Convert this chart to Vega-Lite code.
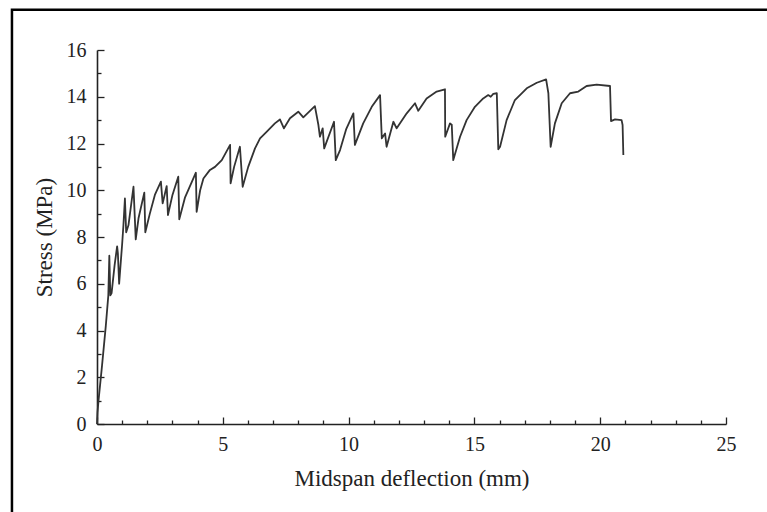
{
  "$schema": "https://vega.github.io/schema/vega-lite/v6.json",
  "autosize": "none",
  "padding": {"left": 97, "top": 50, "right": 41, "bottom": 88},
  "width": 629,
  "height": 374,
  "background": "white",
  "config": {
    "view": {"stroke": null},
    "axis": {
      "grid": false,
      "labelFont": "Liberation Serif",
      "titleFont": "Liberation Serif",
      "labelColor": "#222",
      "titleColor": "#222",
      "labelFontSize": 20,
      "titleFontSize": 23,
      "titleFontWeight": "normal",
      "domainColor": "#222",
      "domainWidth": 1.6,
      "tickColor": "#222",
      "tickWidth": 1.3,
      "labelOverlap": false
    }
  },
  "resolve": {"axis": {"x": "independent", "y": "independent"}},
  "layer": [
    {
      "data": {"values": [
        {"d": 0, "s": 0}, {"d": 0.02, "s": 0.5}, {"d": 0.06, "s": 1.0}, {"d": 0.2, "s": 2.5},
        {"d": 0.35, "s": 4.2}, {"d": 0.45, "s": 5.5}, {"d": 0.49, "s": 7.2}, {"d": 0.53, "s": 5.5},
        {"d": 0.58, "s": 5.6}, {"d": 0.7, "s": 6.8}, {"d": 0.8, "s": 7.6}, {"d": 0.83, "s": 7.3},
        {"d": 0.88, "s": 6.0}, {"d": 0.95, "s": 7.0}, {"d": 1.0, "s": 7.7}, {"d": 1.05, "s": 8.5},
        {"d": 1.11, "s": 9.65}, {"d": 1.16, "s": 8.2}, {"d": 1.25, "s": 8.5}, {"d": 1.45, "s": 10.15},
        {"d": 1.54, "s": 7.9}, {"d": 1.65, "s": 8.8}, {"d": 1.88, "s": 9.9}, {"d": 1.92, "s": 8.2},
        {"d": 2.1, "s": 9.0}, {"d": 2.3, "s": 9.8}, {"d": 2.54, "s": 10.37}, {"d": 2.61, "s": 9.44},
        {"d": 2.77, "s": 10.18}, {"d": 2.82, "s": 8.94}, {"d": 3.0, "s": 9.8}, {"d": 3.23, "s": 10.58},
        {"d": 3.27, "s": 8.76}, {"d": 3.5, "s": 9.7}, {"d": 3.93, "s": 10.75}, {"d": 3.96, "s": 9.08},
        {"d": 4.1, "s": 10.0}, {"d": 4.23, "s": 10.5}, {"d": 4.49, "s": 10.87}, {"d": 4.69, "s": 11.0},
        {"d": 4.96, "s": 11.29}, {"d": 5.29, "s": 11.94}, {"d": 5.31, "s": 10.3}, {"d": 5.45, "s": 11.0},
        {"d": 5.68, "s": 11.86}, {"d": 5.79, "s": 10.15}, {"d": 6.01, "s": 11.0}, {"d": 6.28, "s": 11.79},
        {"d": 6.48, "s": 12.22}, {"d": 6.74, "s": 12.5}, {"d": 7.07, "s": 12.86}, {"d": 7.27, "s": 13.03},
        {"d": 7.43, "s": 12.65}, {"d": 7.67, "s": 13.08}, {"d": 8.0, "s": 13.36}, {"d": 8.2, "s": 13.12},
        {"d": 8.66, "s": 13.6}, {"d": 8.8, "s": 12.79}, {"d": 8.86, "s": 12.29}, {"d": 8.97, "s": 12.65},
        {"d": 9.03, "s": 11.79}, {"d": 9.42, "s": 12.93}, {"d": 9.49, "s": 11.29}, {"d": 9.66, "s": 11.72},
        {"d": 9.9, "s": 12.6}, {"d": 10.19, "s": 13.29}, {"d": 10.25, "s": 11.94}, {"d": 10.58, "s": 12.86},
        {"d": 10.92, "s": 13.57}, {"d": 11.25, "s": 14.07}, {"d": 11.32, "s": 12.22}, {"d": 11.45, "s": 12.43},
        {"d": 11.51, "s": 11.86}, {"d": 11.78, "s": 12.93}, {"d": 11.91, "s": 12.65}, {"d": 12.31, "s": 13.29},
        {"d": 12.64, "s": 13.72}, {"d": 12.77, "s": 13.4}, {"d": 13.1, "s": 13.93}, {"d": 13.5, "s": 14.22},
        {"d": 13.83, "s": 14.32}, {"d": 13.84, "s": 12.29}, {"d": 14.03, "s": 12.86}, {"d": 14.1, "s": 12.8},
        {"d": 14.16, "s": 11.29}, {"d": 14.43, "s": 12.29}, {"d": 14.69, "s": 13.0}, {"d": 15.02, "s": 13.57},
        {"d": 15.35, "s": 13.93}, {"d": 15.55, "s": 14.07}, {"d": 15.65, "s": 14.0}, {"d": 15.75, "s": 14.12},
        {"d": 15.89, "s": 14.15}, {"d": 15.95, "s": 11.75}, {"d": 16.02, "s": 11.86}, {"d": 16.28, "s": 13.0},
        {"d": 16.61, "s": 13.86}, {"d": 17.08, "s": 14.36}, {"d": 17.48, "s": 14.6}, {"d": 17.85, "s": 14.74},
        {"d": 17.94, "s": 14.15}, {"d": 18.03, "s": 11.86}, {"d": 18.2, "s": 12.86}, {"d": 18.47, "s": 13.72},
        {"d": 18.8, "s": 14.15}, {"d": 19.13, "s": 14.22}, {"d": 19.46, "s": 14.46}, {"d": 19.86, "s": 14.52},
        {"d": 20.39, "s": 14.46}, {"d": 20.43, "s": 12.96}, {"d": 20.59, "s": 13.03}, {"d": 20.85, "s": 13.0},
        {"d": 20.89, "s": 12.79}, {"d": 20.92, "s": 11.51}
      ]},
      "mark": {"type": "line", "color": "#333", "strokeWidth": 1.8, "strokeJoin": "round"},
      "encoding": {
        "x": {
          "field": "d", "type": "quantitative",
          "scale": {"domain": [0, 25], "nice": false, "zero": false},
          "axis": {
            "orient": "bottom",
            "title": "Midspan deflection (mm)",
            "values": [0, 5, 10, 15, 20, 25],
            "labelOverlap": false,
            "tickSize": -7,
            "labelPadding": 17,
            "titlePadding": 13,
            "labelFlush": false
          }
        },
        "y": {
          "field": "s", "type": "quantitative",
          "scale": {"domain": [0, 16], "nice": false, "zero": false},
          "axis": {
            "orient": "left",
            "title": "Stress (MPa)",
            "values": [0, 2, 4, 6, 8, 10, 12, 14, 16],
            "labelOverlap": false,
            "tickSize": -7,
            "labelPadding": 18,
            "titlePadding": 10,
            "labelFlush": false
          }
        }
      }
    },
    {
      "data": {"values": [{}]},
      "mark": {"type": "rect", "fill": null, "fillOpacity": 0, "stroke": "black", "strokeWidth": 2.5, "clip": false},
      "encoding": {
        "x": {
          "datum": -3.38, "type": "quantitative",
          "axis": {
            "orient": "bottom",
            "title": null,
            "values": [1, 2, 3, 4, 6, 7, 8, 9, 11, 12, 13, 14, 16, 17, 18, 19, 21, 22, 23, 24],
            "labels": false,
            "domain": false,
            "tickSize": -4
          }
        },
        "x2": {"datum": 40},
        "y": {
          "datum": 17.72, "type": "quantitative",
          "axis": {
            "orient": "left",
            "title": null,
            "values": [1, 3, 5, 7, 9, 11, 13, 15],
            "labels": false,
            "domain": false,
            "tickSize": -4
          }
        },
        "y2": {"datum": -10}
      }
    }
  ]
}
